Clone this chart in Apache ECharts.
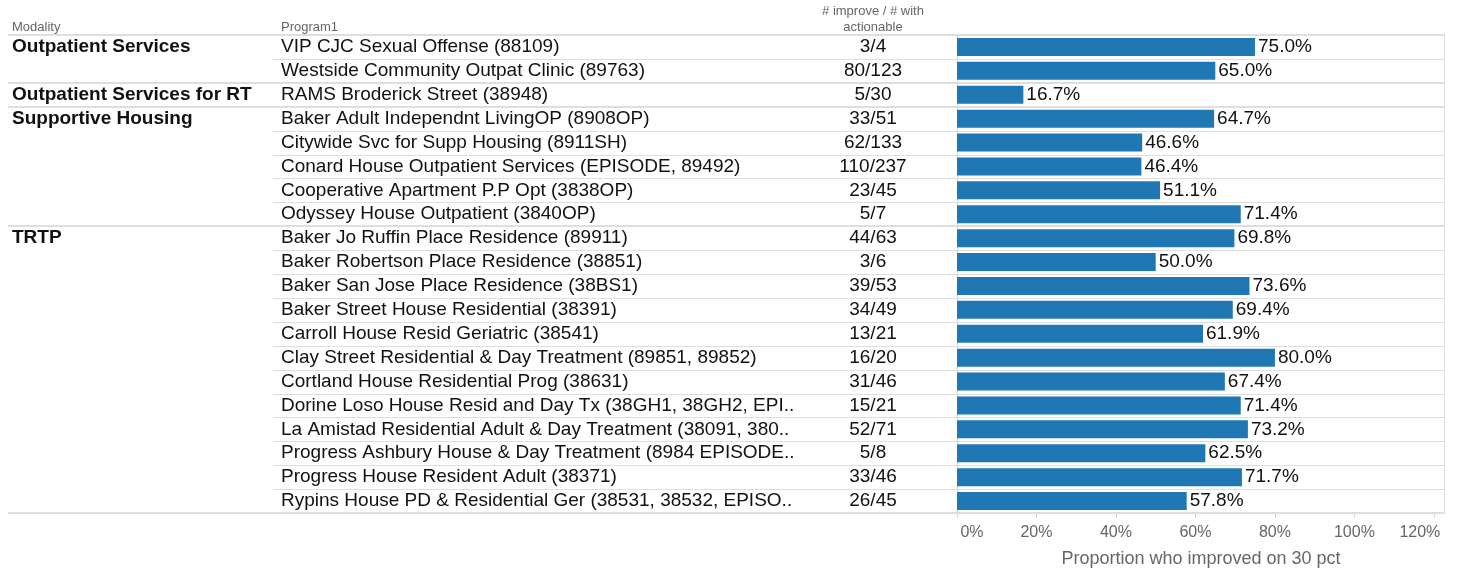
<!DOCTYPE html>
<html>
<head>
<meta charset="utf-8">
<script src="https://cdn.jsdelivr.net/npm/echarts@6/dist/echarts.min.js"></script>
<style>
  html, body { margin: 0; padding: 0; background: #fff; }
  #main { width: 1459px; height: 569px; }
</style>
</head>
<body>
<div id="main"></div>
<script>
const modality = [
  'Outpatient Services', 'Outpatient Services',
  'Outpatient Services for RT',
  'Supportive Housing', 'Supportive Housing', 'Supportive Housing', 'Supportive Housing', 'Supportive Housing',
  'TRTP', 'TRTP', 'TRTP', 'TRTP', 'TRTP', 'TRTP', 'TRTP', 'TRTP', 'TRTP', 'TRTP', 'TRTP', 'TRTP'
];
const programs = [
  'VIP CJC Sexual Offense (88109)',
  'Westside Community Outpat Clinic (89763)',
  'RAMS Broderick Street (38948)',
  'Baker Adult Independnt LivingOP (8908OP)',
  'Citywide Svc for Supp Housing (8911SH)',
  'Conard House Outpatient Services (EPISODE, 89492)',
  'Cooperative Apartment P.P Opt (3838OP)',
  'Odyssey House Outpatient (3840OP)',
  'Baker Jo Ruffin Place Residence (89911)',
  'Baker Robertson Place Residence (38851)',
  'Baker San Jose Place Residence (38BS1)',
  'Baker Street House Residential (38391)',
  'Carroll House Resid Geriatric (38541)',
  'Clay Street Residential & Day Treatment (89851, 89852)',
  'Cortland House Residential Prog (38631)',
  'Dorine Loso House Resid and Day Tx (38GH1, 38GH2, EPI..',
  'La Amistad Residential Adult & Day Treatment (38091, 380..',
  'Progress Ashbury House & Day Treatment (8984 EPISODE..',
  'Progress House Resident Adult (38371)',
  'Rypins House PD & Residential Ger (38531, 38532, EPISO..'
];
const counts = [
  '3/4', '80/123', '5/30', '33/51', '62/133', '110/237', '23/45', '5/7',
  '44/63', '3/6', '39/53', '34/49', '13/21', '16/20', '31/46', '15/21',
  '52/71', '5/8', '33/46', '26/45'
];
const proportions = [
  0.750, 0.650, 0.167, 0.647, 0.466, 0.464, 0.511, 0.714,
  0.698, 0.500, 0.736, 0.694, 0.619, 0.800, 0.674, 0.714,
  0.732, 0.625, 0.717, 0.578
];
const tickValues = [0, 0.2, 0.4, 0.6, 0.8, 1.0, 1.2];
const tickLabels = ['0%', '20%', '40%', '60%', '80%', '100%', '120%'];

const FONT = 'Arial, "Liberation Sans", sans-serif';
const GRID_LEFT = 957;
const TABLE_LEFT = 8;
const ROW_LINE_LEFT = 273;
const LINE_COLOR = '#dedede';
const X_MAX = 1.228;

const chart = echarts.init(document.getElementById('main'));

function isGroupStart(i) {
  return i === 0 || modality[i] !== modality[i - 1];
}

// row separators + pane borders, placed from the category scale
function renderLines(params, api) {
  const i = params.dataIndex;
  const p = api.coord([0, i]);
  const right = api.coord([X_MAX, i])[0];
  const h = api.size([0, 1])[1];
  const top = p[1] - h / 2;
  const start = isGroupStart(i);
  const yTop = start ? Math.round(top) : Math.round(top) + 0.5;
  const children = [
    {
      type: 'line',
      shape: { x1: start ? TABLE_LEFT : ROW_LINE_LEFT, y1: yTop, x2: right, y2: yTop },
      style: { stroke: LINE_COLOR, lineWidth: start ? 2 : 1 }
    },
    {
      type: 'line',
      shape: { x1: Math.round(p[0]) + 0.5, y1: top, x2: Math.round(p[0]) + 0.5, y2: top + h },
      style: { stroke: '#d4d4d4', lineWidth: 1 }
    },
    {
      type: 'line',
      shape: { x1: Math.round(right) - 0.5, y1: top, x2: Math.round(right) - 0.5, y2: top + h },
      style: { stroke: LINE_COLOR, lineWidth: 1 }
    }
  ];
  if (i === programs.length - 1) {
    const yb = Math.round(top + h);
    children.push({
      type: 'line',
      shape: { x1: TABLE_LEFT, y1: yb, x2: right, y2: yb },
      style: { stroke: LINE_COLOR, lineWidth: 2 }
    });
  }
  return { type: 'group', children: children };
}

function axisLabel(v) {
  const idx = tickValues.findIndex(t => Math.abs(t - v) < 1e-6);
  if (idx < 0) return '';
  if (idx === 0) return '{l|' + tickLabels[idx] + '}';
  if (idx === tickLabels.length - 1) return '{r|' + tickLabels[idx] + '}';
  return tickLabels[idx];
}

const baseY = {
  type: 'category',
  data: programs,
  inverse: true,
  position: 'left',
  offset: 0,
  axisLine: { show: false },
  axisTick: { show: false },
  splitLine: { show: false }
};

chart.setOption({
  animation: false,
  textStyle: { fontFamily: FONT },
  grid: {
    left: GRID_LEFT, right: 14, top: 35, bottom: 56,
    containLabel: false, outerBoundsMode: 'none'
  },
  xAxis: {
    type: 'value',
    min: 0,
    max: X_MAX,
    interval: 0.2,
    axisLine: { show: false },
    axisTick: { show: true, length: 5, customValues: tickValues, lineStyle: { color: '#d6d6d6' } },
    splitLine: { show: false },
    axisLabel: {
      margin: 12,
      fontSize: 16,
      color: '#666',
      fontFamily: FONT,
      customValues: tickValues,
      formatter: axisLabel,
      rich: {
        l: { fontSize: 16, color: '#666', fontFamily: FONT, padding: [0, 0, 0, 30] },
        r: { fontSize: 16, color: '#666', fontFamily: FONT, padding: [0, 28, 0, 0] }
      }
    },
    name: 'Proportion who improved on 30 pct',
    nameLocation: 'middle',
    nameGap: 37,
    nameTextStyle: { fontSize: 18, color: '#666', fontFamily: FONT }
  },
  yAxis: [
    Object.assign({}, baseY, {
      axisLabel: {
        interval: 0, align: 'left', margin: GRID_LEFT - 281,
        fontSize: 19, color: '#111', fontFamily: FONT
      }
    }),
    Object.assign({}, baseY, {
      axisLabel: {
        interval: 0, align: 'center', margin: GRID_LEFT - 873,
        fontSize: 19, color: '#111', fontFamily: FONT,
        formatter: (v, i) => counts[i]
      }
    }),
    Object.assign({}, baseY, {
      axisLabel: {
        interval: 0, align: 'left', margin: GRID_LEFT - 12,
        fontSize: 19, fontWeight: 'bold', color: '#111', fontFamily: FONT,
        formatter: (v, i) => (isGroupStart(i) ? modality[i] : '')
      }
    })
  ],
  graphic: [
    { type: 'text', x: 12, y: 21, style: { text: 'Modality', font: '13px ' + FONT, fill: '#666' } },
    { type: 'text', x: 281, y: 21, style: { text: 'Program1', font: '13px ' + FONT, fill: '#666' } },
    { type: 'text', x: 873, y: 3, style: { text: '# improve / # with\nactionable', font: '13px ' + FONT, fill: '#666', align: 'center', lineHeight: 16 } }
  ],
  series: [
    {
      type: 'custom',
      yAxisIndex: 0,
      clip: false,
      silent: true,
      renderItem: renderLines,
      data: programs.map((p, i) => [0, i]),
      z: 1
    },
    {
      type: 'bar',
      yAxisIndex: 0,
      data: proportions,
      barWidth: 18,
      itemStyle: { color: '#1f77b4' },
      label: {
        show: true,
        position: 'right',
        distance: 3,
        fontSize: 19,
        color: '#111',
        fontFamily: FONT,
        formatter: p => (p.value * 100).toFixed(1) + '%'
      },
      z: 2
    }
  ]
});

window.addEventListener('resize', () => chart.resize());
</script>
</body>
</html>
